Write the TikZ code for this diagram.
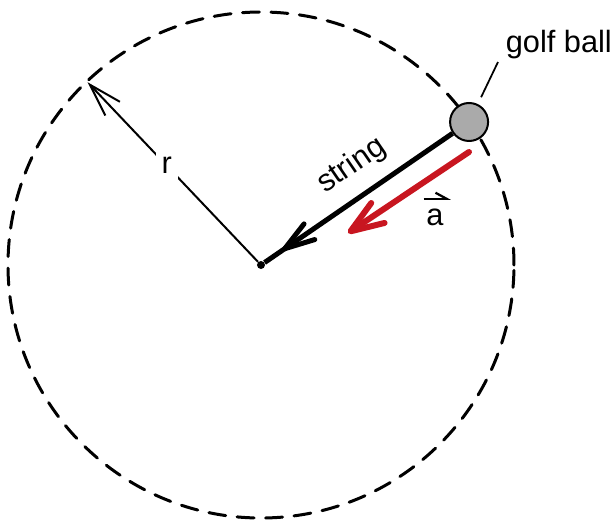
\documentclass[tikz,border=0pt]{standalone}
\usepackage{fontspec}
\setmainfont{Liberation Sans}
\usepackage{tikz}
\usetikzlibrary{arrows.meta, calc, positioning, decorations.markings}
\usepackage{xcolor}
\definecolor{accelred}{RGB}{200, 22, 32}
\definecolor{ballgray}{RGB}{170, 170, 170}
\newcommand{\lblfont}{\fontsize{17.5}{21}\selectfont}

\begin{document}
\begin{tikzpicture}[
    lbl/.style={font=\lblfont, inner sep=0.05cm},
    orbit/.style={line width=0.06cm, line cap=round,
                  dash pattern=on 0.34cm off 0.23cm},
    radiusline/.style={line width=0.04cm,
                  -{Straight Barb[length=0.66cm, width=0.4cm]}},
    stringline/.style={line width=0.1cm, postaction={decorate},
                  decoration={markings, mark=at position 0.904 with
                  {\arrow{Straight Barb[round, length=0.6cm, width=0.38cm]}}}},
    accel/.style={accelred, line width=0.12cm, line cap=round,
                  -{Straight Barb[round, length=0.66cm, width=0.48cm]}},
    harpoon/.style={line width=0.045cm,
                  -{Straight Barb[harpoon, length=0.22cm, width=0.24cm]}}
  ]
  \useasboundingbox (-5.22,-5.08) rectangle (7.04,5.3);
  %---- circular path of the ball ---------------------------------------------
  \draw[orbit] (0,0) circle (5.06);
  \node[circle, fill, inner sep=0pt, minimum size=0.16cm] (o) at (0,0) {};
  \coordinate (rim) at (133.5:5.04);
  \draw[radiusline] (o) -- (rim)
    node[lbl, pos=0.536, fill=white, inner sep=0.12cm] (rlab) {r};
  %---- ball on the string ----------------------------------------------------
  \node[circle, draw, line width=0.04cm, fill=ballgray,
        minimum size=0.76cm, inner sep=0pt] (ball) at (34.5:5.05) {};
  \draw[stringline] (ball) -- (o)
    node[lbl, pos=0.445, sloped, above=0.22cm] (strlab) {string};
  \node[lbl, anchor=south west, inner xsep=0.15cm, inner ysep=0.05cm]
    (balllab) at (4.74,4.06) {golf ball};
  \draw[line width=0.035cm, shorten <=0.15cm] (ball.64) -- (balllab.south west);
  %---- acceleration ----------------------------------------------------------
  \coordinate (a0) at (4.16,2.26);
  \coordinate (a1) at (1.74,0.64);
  \draw[accel] (a0) -- (a1);
  \node[lbl] (alab) at (3.48,0.95) {a};
  \draw[harpoon] ([yshift=0.15cm]alab.north west)
    -- ([xshift=0.09cm, yshift=0.15cm]alab.north east);
\end{tikzpicture}
\end{document}
